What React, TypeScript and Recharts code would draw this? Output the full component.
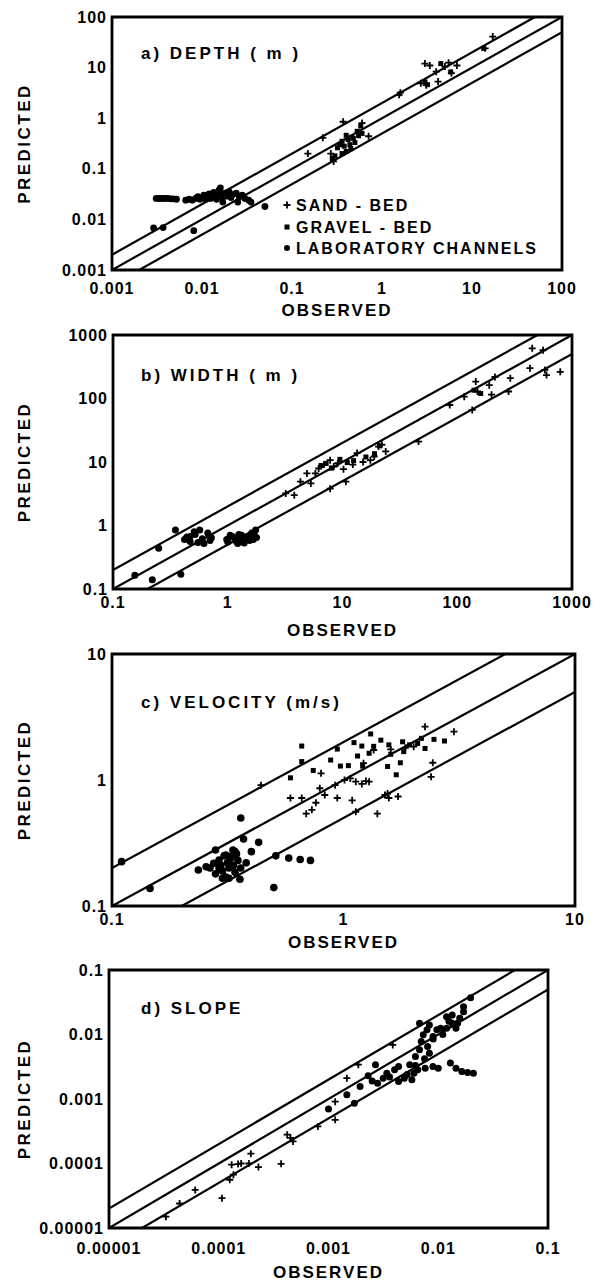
import React from 'react';
import { ScatterChart, Scatter, XAxis, YAxis, ReferenceLine, ReferenceArea } from 'recharts';

type Pt = [number, number];

// ─── a) depth ───────────────────────────────────────────────────────
const A_SAND: Pt[] = [
  [0.15, 0.2], [0.22, 0.41], [0.37, 0.85], [0.71, 0.44], [1.55, 2.9], [1.6, 3.2], [2.7, 4.9],
  [3.1, 4.5], [3.4, 11], [4, 8.3], [4.2, 5.3], [5, 10.5], [5.9, 7.8], [6.8, 11], [14, 24],
  [17, 41], [0.29, 0.14], [0.27, 0.2], [0.6, 0.8], [3.0, 12], [5.5, 12.5],
];
const A_GRAVEL: Pt[] = [
  [0.32, 0.26], [0.34, 0.3], [0.36, 0.35], [0.38, 0.28], [0.4, 0.46], [0.42, 0.38], [0.44, 0.3],
  [0.46, 0.42], [0.48, 0.4], [0.5, 0.33], [0.53, 0.55], [0.55, 0.45], [0.58, 0.7], [0.6, 0.5],
  [0.45, 0.25], [0.4, 0.22], [0.36, 0.2], [0.3, 0.18], [0.28, 0.16], [3.2, 4.6], [5.8, 8.2],
  [13.5, 24], [3.0, 5.2], [4.5, 12],
];
const A_LAB: Pt[] = [
  [0.0031, 0.026], [0.0033, 0.026], [0.0035, 0.026], [0.0037, 0.026], [0.0039, 0.026], [0.0042, 0.026],
  [0.0045, 0.0255], [0.0048, 0.0255], [0.0052, 0.025], [0.0066, 0.024], [0.0072, 0.025], [0.0078, 0.024],
  [0.0085, 0.026], [0.009, 0.028], [0.0095, 0.025], [0.01, 0.027], [0.0105, 0.03], [0.011, 0.025],
  [0.0115, 0.028], [0.012, 0.032], [0.0125, 0.026], [0.013, 0.03], [0.0135, 0.034], [0.014, 0.028],
  [0.0145, 0.025], [0.015, 0.031], [0.0155, 0.038], [0.016, 0.042], [0.0165, 0.03], [0.017, 0.027],
  [0.018, 0.033], [0.019, 0.029], [0.02, 0.035], [0.021, 0.027], [0.022, 0.031], [0.024, 0.033],
  [0.026, 0.028], [0.028, 0.03], [0.03, 0.026], [0.033, 0.024], [0.035, 0.022], [0.05, 0.018],
  [0.0029, 0.0068], [0.0037, 0.0069], [0.0081, 0.006], [0.017, 0.022], [0.025, 0.022],
];

// ─── b) width ───────────────────────────────────────────────────────
const B_SAND: Pt[] = [
  [3.2, 3.2], [3.8, 3.0], [4.3, 4.9], [4.9, 6.6], [5.8, 6.6], [6.2, 7.9], [6.9, 9.1], [7.8, 10.7],
  [8.4, 8.5], [9.1, 9.6], [10.2, 7.7], [12.3, 9.1], [13.4, 13.8], [15.1, 10], [17.5, 10.7],
  [18.9, 12.2], [20.6, 17.5], [22, 18.7], [23.8, 14.7], [46, 21], [7.8, 3.8], [10.7, 4.9], [5.3, 4.6],
  [86, 79], [115, 107], [145, 185], [150, 129], [190, 162], [213, 218], [199, 115], [290, 209],
  [280, 129], [135, 66], [450, 617], [430, 300], [560, 575], [580, 282], [600, 234], [790, 263],
];
const B_GRAVEL: Pt[] = [
  [6.5, 8.8], [7.2, 9.5], [8.0, 8.0], [9.5, 11], [11, 9.8], [12.5, 10.5], [16, 12], [19, 13.5],
  [21, 18], [140, 135], [160, 120],
];
const B_LAB: Pt[] = [
  [0.155, 0.164], [0.22, 0.14], [0.25, 0.44], [0.39, 0.17], [0.35, 0.85], [0.42, 0.6], [0.44, 0.66],
  [0.47, 0.67], [0.47, 0.56], [0.51, 0.8], [0.55, 0.54], [0.57, 0.85], [0.6, 0.62], [0.62, 0.52],
  [0.67, 0.76], [0.7, 0.58], [0.72, 0.64], [0.52, 0.72], [0.98, 0.6], [1.0, 0.55], [1.05, 0.7],
  [1.1, 0.67], [1.15, 0.62], [1.19, 0.56], [1.22, 0.52], [1.28, 0.63], [1.32, 0.7], [1.39, 0.53],
  [1.45, 0.6], [1.5, 0.67], [1.55, 0.58], [1.62, 0.76], [1.67, 0.6], [1.7, 0.7], [1.75, 0.85],
  [1.78, 0.65], [1.3, 0.58], [1.25, 0.72],
];

// ─── c) velocity ────────────────────────────────────────────────────
const C_SAND: Pt[] = [
  [0.44, 0.91], [0.59, 0.72], [0.66, 0.72], [0.69, 0.54], [0.73, 0.58], [0.76, 0.66], [0.79, 0.86],
  [0.83, 0.76], [0.8, 1.13], [0.94, 0.72], [0.92, 0.91], [1.01, 1.0], [1.07, 1.03], [1.13, 0.97],
  [1.2, 0.93], [1.29, 0.97], [1.09, 0.69], [1.13, 0.56], [1.4, 0.54], [1.51, 0.76], [1.57, 0.72],
  [1.72, 0.74], [2.39, 1.06], [2.43, 1.37], [2.25, 2.65], [3.0, 2.42], [2.01, 1.84], [1.22, 1.36],
  [1.35, 1.73], [1.6, 1.75], [1.85, 1.8], [1.25, 0.98], [1.55, 0.78],
];
const C_GRAVEL: Pt[] = [
  [0.66, 1.86], [0.66, 1.4], [0.59, 1.04], [0.74, 1.19], [0.94, 1.76], [0.88, 1.44], [0.97, 1.29],
  [1.11, 1.98], [1.2, 1.86], [1.15, 1.55], [1.31, 2.32], [1.29, 1.63], [1.45, 2.07], [1.57, 1.9],
  [1.55, 1.28], [1.69, 1.1], [1.76, 1.37], [1.8, 2.01], [1.82, 1.68], [2.09, 1.95], [2.17, 2.14],
  [2.25, 1.78], [2.46, 2.1], [2.73, 2.04], [1.93, 1.9], [1.21, 1.29], [1.35, 1.85], [1.6, 1.6],
  [1.05, 1.3],
];
const C_LAB: Pt[] = [
  [0.11, 0.225], [0.146, 0.138], [0.36, 0.5], [0.37, 0.34], [0.43, 0.32], [0.4, 0.27], [0.5, 0.14],
  [0.51, 0.25], [0.58, 0.24], [0.65, 0.234], [0.72, 0.23], [0.236, 0.193], [0.255, 0.205],
  [0.265, 0.2], [0.275, 0.218], [0.28, 0.278], [0.29, 0.232], [0.295, 0.21], [0.3, 0.19],
  [0.305, 0.25], [0.31, 0.254], [0.315, 0.22], [0.32, 0.2], [0.32, 0.166], [0.325, 0.238],
  [0.333, 0.278], [0.335, 0.21], [0.34, 0.185], [0.345, 0.26], [0.35, 0.23], [0.357, 0.163],
  [0.36, 0.2], [0.3, 0.166], [0.28, 0.18], [0.33, 0.25], [0.38, 0.22], [0.29, 0.2], [0.31, 0.17],
  [0.34, 0.27],
];

// ─── d) slope ───────────────────────────────────────────────────────
const D_SAND: Pt[] = [
  [3.3e-5, 1.5e-5], [4.4e-5, 2.4e-5], [6.1e-5, 3.9e-5], [1.07e-4, 2.9e-5], [1.26e-4, 5.6e-5],
  [1.36e-4, 6.7e-5], [1.31e-4, 9.6e-5], [1.6e-4, 1.0e-4], [1.96e-4, 1.42e-4], [1.88e-4, 1.0e-4],
  [2.3e-4, 8.8e-5], [3.7e-4, 9.9e-5], [4.2e-4, 2.8e-4], [4.75e-4, 2.2e-4], [8.0e-4, 3.75e-4],
  [1.15e-3, 4.75e-4], [1.15e-3, 9.1e-4], [1.47e-3, 2.1e-3], [1.87e-3, 3.4e-3], [3.85e-3, 6.9e-3],
  [1.5e-4, 9.8e-5], [4.5e-4, 2.5e-4],
];
const D_GRAVEL: Pt[] = [];
const D_LAB: Pt[] = [
  [1.0e-3, 7.0e-4], [1.47e-3, 1.16e-3], [1.72e-3, 8.6e-4], [1.94e-3, 1.56e-3], [2.68e-3, 3.4e-3],
  [2.8e-3, 1.76e-3], [3.15e-3, 2.1e-3], [3.4e-3, 2.5e-3], [4.0e-3, 2.83e-3], [4.35e-3, 3.2e-3],
  [4.35e-3, 1.87e-3], [4.9e-3, 2.1e-3], [5.75e-3, 1.98e-3], [6.0e-3, 2.5e-3], [6.5e-3, 2.83e-3],
  [7.6e-3, 3.0e-3], [8.95e-3, 3.2e-3], [1.0e-2, 3.0e-3], [8.3e-3, 5.1e-3], [6.2e-3, 4.55e-3],
  [6.75e-3, 5.8e-3], [7.0e-3, 7.8e-3], [7.3e-3, 9.9e-3], [7.9e-3, 1.18e-2], [6.75e-3, 1.49e-2],
  [8.3e-3, 1.41e-2], [8.95e-3, 9.3e-3], [9.7e-3, 1.18e-2], [1.05e-2, 1.25e-2], [1.19e-2, 1.25e-2],
  [1.34e-2, 1.49e-2], [1.45e-2, 1.25e-2], [1.19e-2, 1.89e-2], [1.34e-2, 2.0e-2], [1.57e-2, 1.79e-2],
  [1.7e-2, 2.26e-2], [1.7e-2, 2.7e-2], [1.97e-2, 3.7e-2], [1.29e-2, 3.6e-3], [1.45e-2, 3.0e-3],
  [1.64e-2, 2.67e-3], [1.85e-2, 2.57e-3], [2.09e-2, 2.51e-3], [2.3e-3, 2.3e-3], [2.5e-3, 1.9e-3],
  [3.6e-3, 2.2e-3], [5.2e-3, 2.4e-3], [5.5e-3, 3.4e-3], [7.5e-3, 4.2e-3], [8.0e-3, 6.5e-3],
  [9.0e-3, 8.5e-3], [6.2e-3, 3.3e-3], [1.1e-2, 1.0e-2], [1.25e-2, 1.6e-2], [1.5e-2, 1.5e-2],
];

const A_TICKS = [0.001, 0.01, 0.1, 1, 10, 100];
const B_TICKS = [0.1, 1, 10, 100, 1000];
const C_TICKS = [0.1, 1, 10];
const D_TICKS = [0.00001, 0.0001, 0.001, 0.01, 0.1];

// predicted = factor * observed
const LINE_FACTORS = [2, 1, 0.5];

const LEGEND_LABELS = ['SAND - BED', 'GRAVEL - BED', 'LABORATORY CHANNELS'];

const FONT = '"Liberation Sans", Arial, sans-serif';
const INK = '#000';

const rows = (pts: Pt[]) => pts.map(([x, y]) => ({ x, y }));

const Plus = ({ cx, cy }: any) => (
  <path d={`M${cx - 3.5},${cy}h7M${cx},${cy - 3.5}v7`} stroke={INK} strokeWidth={1.8} fill="none" />
);
const Square = ({ cx, cy }: any) => (
  <rect x={cx - 2.5} y={cy - 2.5} width={5} height={5} fill={INK} />
);
const makeDot = (r: number) => ({ cx, cy }: any) => <circle cx={cx} cy={cy} r={r} fill={INK} />;

const textStyle = { fill: INK, fontFamily: FONT, fontWeight: 700 };

function LegendBlock() {
  const x = 287;
  const ys = [205, 227, 248];
  return (
    <g>
      {LEGEND_LABELS.map((label, i) => (
        <g key={label}>
          {i === 0 && <Plus cx={x} cy={ys[i]} />}
          {i === 1 && <Square cx={x} cy={ys[i]} />}
          {i === 2 && <circle cx={x} cy={ys[i]} r={3} fill={INK} />}
          <text x={x + 9} y={ys[i] + 6} fontSize={16} letterSpacing={2} {...textStyle}>{label}</text>
        </g>
      ))}
    </g>
  );
}

interface PanelProps {
  top: number;
  height: number;
  margin: { top: number; right: number; bottom: number; left: number };
  yWidth: number;
  xHeight: number;
  tickGap: number;
  ticks: number[];
  title: string;
  titleY: number;
  sand: Pt[];
  gravel: Pt[];
  lab: Pt[];
  dotR: number;
  legend?: boolean;
}

function Panel(p: PanelProps) {
  const lo = p.ticks[0];
  const hi = p.ticks[p.ticks.length - 1];
  const tick = { ...textStyle, fontSize: 16, letterSpacing: 1 };
  return (
    <div style={{ position: 'absolute', left: 0, top: p.top }}>
      <ScatterChart width={601} height={p.height} margin={p.margin}>
        <XAxis
          type="number"
          dataKey="x"
          scale="log"
          domain={[lo, hi]}
          ticks={p.ticks}
          interval={0}
          allowDataOverflow
          axisLine={false}
          tickLine={false}
          tickSize={0}
          tickMargin={p.tickGap}
          height={p.xHeight}
          tickFormatter={(v: number) => String(v)}
          tick={tick}
          label={{ value: 'OBSERVED', position: 'insideBottom', offset: 0, fontSize: 17, letterSpacing: 2, ...textStyle }}
        />
        <YAxis
          type="number"
          dataKey="y"
          scale="log"
          domain={[lo, hi]}
          ticks={p.ticks}
          interval={0}
          allowDataOverflow
          axisLine={false}
          tickLine={false}
          tickSize={0}
          tickMargin={5}
          width={p.yWidth}
          tickFormatter={(v: number) => String(v)}
          tick={tick}
          label={{
            value: 'PREDICTED', angle: -90, position: 'insideLeft', offset: 24,
            fontSize: 17, letterSpacing: 2.5, style: { textAnchor: 'middle' }, ...textStyle,
          }}
        />
        <ReferenceArea x1={lo} x2={hi} y1={lo} y2={hi} fill="none" stroke={INK} strokeWidth={2.8} ifOverflow="visible" />
        {LINE_FACTORS.map(f => (
          <ReferenceLine
            key={f}
            segment={[{ x: lo / 10, y: (lo / 10) * f }, { x: hi * 10, y: hi * 10 * f }]}
            stroke={INK}
            strokeWidth={2.2}
            ifOverflow="hidden"
          />
        ))}
        <Scatter name="SAND-BED" data={rows(p.sand)} shape={Plus} isAnimationActive={false} />
        <Scatter name="GRAVEL-BED" data={rows(p.gravel)} shape={Square} isAnimationActive={false} />
        <Scatter name="LABORATORY CHANNELS" data={rows(p.lab)} shape={makeDot(p.dotR)} isAnimationActive={false} />
        <text x={141} y={p.titleY} fontSize={17} letterSpacing={3} {...textStyle}>{p.title}</text>
        {p.legend && <LegendBlock />}
      </ScatterChart>
    </div>
  );
}

export default function App() {
  return (
    <div style={{ position: 'absolute', left: 0, top: 0, width: 601, height: 1281, background: '#fff', overflow: 'hidden' }}>
      <Panel
        top={0} height={325} margin={{ top: 17, right: 39, bottom: 9, left: 0 }}
        yWidth={112} xHeight={46} tickGap={13} ticks={A_TICKS}
        title="a) DEPTH ( m )" titleY={59}
        sand={A_SAND} gravel={A_GRAVEL} lab={A_LAB} dotR={3.4} legend
      />
      <Panel
        top={325} height={320} margin={{ top: 10, right: 29, bottom: 9, left: 0 }}
        yWidth={113} xHeight={47} tickGap={8} ticks={B_TICKS}
        title="b) WIDTH ( m )" titleY={56}
        sand={B_SAND} gravel={B_GRAVEL} lab={B_LAB} dotR={3.5}
      />
      <Panel
        top={645} height={315} margin={{ top: 9, right: 26, bottom: 12, left: 0 }}
        yWidth={112} xHeight={42} tickGap={8} ticks={C_TICKS}
        title="c) VELOCITY (m/s)" titleY={63}
        sand={C_SAND} gravel={C_GRAVEL} lab={C_LAB} dotR={3.8}
      />
      <Panel
        top={960} height={321} margin={{ top: 10, right: 53, bottom: 3, left: 0 }}
        yWidth={109} xHeight={50} tickGap={15} ticks={D_TICKS}
        title="d) SLOPE" titleY={54}
        sand={D_SAND} gravel={D_GRAVEL} lab={D_LAB} dotR={3.5}
      />
    </div>
  );
}
